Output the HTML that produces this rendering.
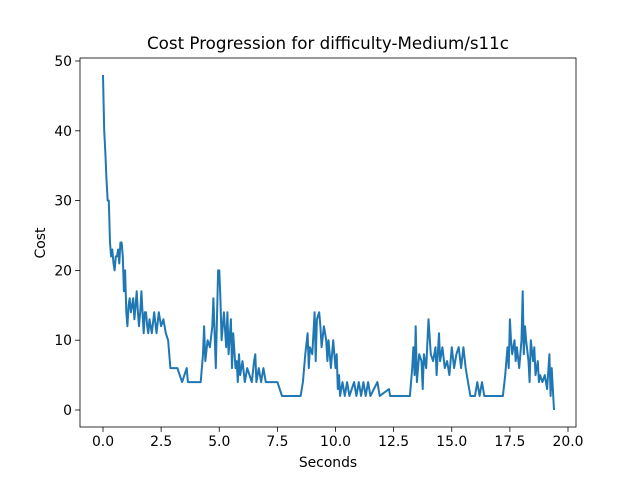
<!DOCTYPE html>
<html><head><meta charset="utf-8"><style>body{margin:0;background:#fff}svg{font-family:"DejaVu Sans","Liberation Sans",sans-serif}</style></head>
<body>
<svg id="c" width="640" height="480"></svg>
<script>
const times=[0,0.05,0.1,0.15,0.2,0.25,0.3,0.35,0.4,0.45,0.5,0.55,0.6,0.65,0.7,0.75,0.8,0.85,0.9,0.95,1.0,1.05,1.1,1.15,1.2,1.25,1.3,1.35,1.4,1.45,1.5,1.55,1.6,1.65,1.7,1.75,1.8,1.85,1.9,1.95,2.0,2.1,2.2,2.3,2.4,2.5,2.6,2.7,2.8,2.9,3.0,3.1,3.2,3.3,3.4,3.5,3.6,3.65,4.0,4.2,4.3,4.35,4.4,4.5,4.6,4.7,4.75,4.8,4.85,4.95,5.0,5.05,5.1,5.2,5.3,5.35,5.4,5.5,5.55,5.6,5.7,5.75,5.8,5.85,5.9,6.0,6.1,6.2,6.3,6.4,6.5,6.55,6.6,6.7,6.8,6.9,7.0,7.5,7.6,7.7,8.5,8.6,8.7,8.8,8.85,8.9,9.0,9.1,9.15,9.2,9.3,9.35,9.4,9.5,9.6,9.65,9.7,9.8,9.9,10.0,10.05,10.1,10.15,10.2,10.3,10.4,10.5,10.6,10.8,10.9,11.0,11.1,11.2,11.3,11.4,11.5,11.8,11.9,12.3,12.35,13.2,13.3,13.35,13.4,13.45,13.5,13.6,13.7,13.75,13.8,13.9,14.0,14.1,14.2,14.3,14.35,14.45,14.5,14.6,14.7,14.8,14.9,15.0,15.1,15.2,15.3,15.4,15.5,15.6,15.7,15.8,16.0,16.1,16.2,16.3,16.4,17.2,17.3,17.4,17.45,17.5,17.55,17.6,17.7,17.75,17.8,17.9,18.0,18.05,18.1,18.15,18.2,18.3,18.35,18.4,18.5,18.55,18.6,18.7,18.75,18.8,18.9,19.0,19.1,19.2,19.25,19.3,19.4];
const costs=[48,40,37,33,30,30,24,22,23,21,20,22,22,23,21,24,24,22,17,20,14,12,15,16,14,15,16,13,15,17,14,12,14,17,14,11,14,14,12,11,13,11,14,11,14,12,13,11,10,6,6,6,6,5,4,5,6,4,4,4,8,12,7,10,9,12,16,11,6,20,20,16,10,14,9,14,8,13,6,11,6,7,4,8,5,7,4,6,5,4,7,8,4,6,4,6,4,4,3,2,2,4,8,11,6,9,8,14,7,13,14,12,9,12,10,7,10,6,10,6,8,3,5,2,4,2,4,2,4,2,4,2,4,2,4,2,4,2,3,2,2,6,9,5,12,4,8,7,3,8,6,13,8,7,9,5,11,7,9,6,7,5,9,6,8,9,6,9,6,4,2,2,4,2,4,2,2,5,9,6,13,10,8,10,7,9,6,10,17,8,12,10,7,4,10,7,9,5,7,4,5,4,5,3,8,2,6,0];
const xTicks=[0,2.5,5,7.5,10,12.5,15,17.5,20];
const yTicks=[0,10,20,30,40,50];
const L=80,R=576,T=58,B=427;
const xs=t=>103+t*23.25, ys=v=>410-v*6.98;
const s=document.getElementById('c');const NS='http://www.w3.org/2000/svg';
function mk(tag,a,txt){const e=document.createElementNS(NS,tag);for(const k in a)e.setAttribute(k,a[k]);if(txt!=null)e.textContent=txt;s.appendChild(e);return e;}
let f=mk('rect',{x:L,y:T,width:R-L,height:B-T,fill:'none',stroke:'#000','stroke-width':0.8});


xTicks.forEach(v=>{const x=xs(v);
let l=mk('line',{x1:x,x2:x,y1:B,y2:B+4.9,stroke:'#000','stroke-width':0.8});


let t=mk('text',{x:x,y:B+19,'font-size':13.9,'text-anchor':'middle'},v.toFixed(1));

});
yTicks.forEach(v=>{const y=ys(v);
let l=mk('line',{x1:L-4.9,x2:L,y1:y,y2:y,stroke:'#000','stroke-width':0.8});


let t=mk('text',{x:L-8,y:y+5,'font-size':13.9,'text-anchor':'end'},String(v));

});
let d=times.map((t,i)=>(i?'L':'M')+xs(t).toFixed(1)+','+ys(costs[i]).toFixed(1)).join('');
let p=mk('path',{d:d,fill:'none',stroke:'#1f77b4','stroke-width':2,'stroke-linejoin':'round'});


let ti=mk('text',{x:328,y:49,'font-size':16.7,'text-anchor':'middle'},'Cost Progression for difficulty-Medium/s11c');


let xl=mk('text',{x:328,y:467,'font-size':13.9,'text-anchor':'middle'},'Seconds');


let yl=mk('text',{x:45,y:243,'font-size':13.9,'text-anchor':'middle',transform:'rotate(-90 45 243)'},'Cost');


</script>
</body></html>
